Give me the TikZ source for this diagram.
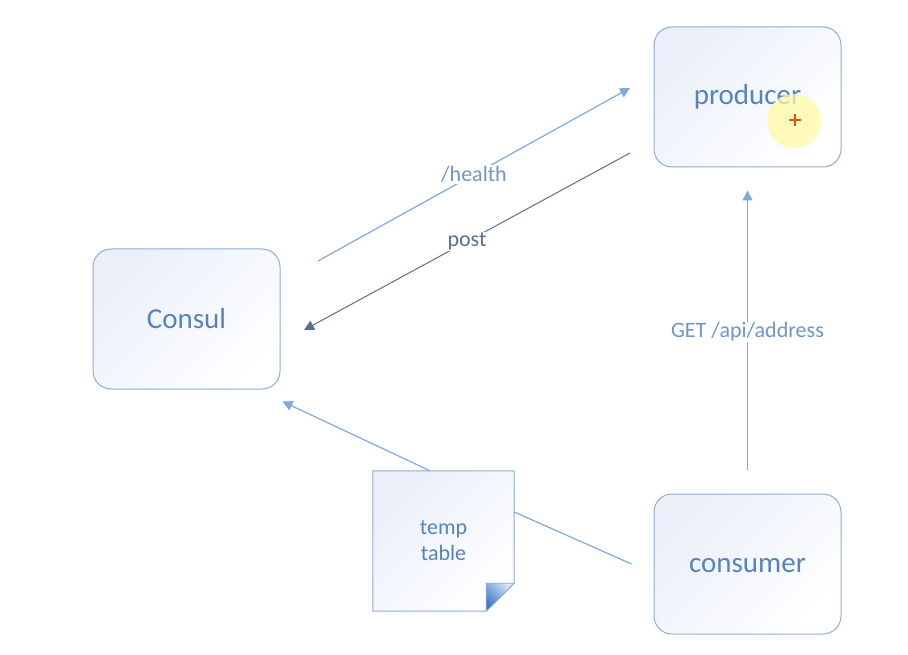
\documentclass[tikz,border=0pt]{standalone}
\usepackage{fontspec}
\setmainfont{Carlito}
\usepackage{tikz}
\usetikzlibrary{arrows.meta,positioning,shapes,backgrounds}
\definecolor{boxline}{RGB}{140,174,216}
\definecolor{boxtext}{RGB}{84,132,192}
\definecolor{boxfill}{RGB}{234,239,249}
\definecolor{linkblue}{RGB}{128,170,222}
\definecolor{linkdark}{RGB}{92,110,142}
\definecolor{folddark}{RGB}{62,118,196}
\definecolor{foldlight}{RGB}{214,228,246}
\definecolor{cursorred}{RGB}{232,80,10}
\tikzstyle{service} = [rectangle, draw=boxline, line width=1pt, rounded corners=18pt, minimum width=187pt, minimum height=140pt, left color=boxfill, right color=white, shading angle=45, text=boxtext, font=\fontsize{29}{32}\selectfont]
\tikzstyle{notebox} = [rectangle, minimum width=141pt, minimum height=140pt, align=center, text=boxtext, font=\fontsize{22}{26}\selectfont]
\tikzstyle{link} = [draw=linkblue, line width=1.2pt, -{Triangle[length=10pt,width=10pt]}]
\tikzstyle{lbl} = [fill=white, inner sep=1pt, text=boxtext!85, font=\fontsize{22}{24}\selectfont]

\begin{document}
\begin{tikzpicture}[x=1pt, y=-1pt]
		\useasboundingbox (0,0) rectangle (908,655);
		% Place nodes
		\node [service] (consul) at (186.5,319) {Consul};
		\node [service] (producer) at (747.5,97) {\raisebox{-8pt}[0pt][0pt]{producer}};
		\node [service, below of=producer, node distance=467pt] (consumer) {\raisebox{-8pt}[0pt][0pt]{consumer}};
		\node [notebox] (note) at (443.5,541) {temp\\table};
		\begin{pgfonlayer}{background}
			\draw [draw=boxline, line width=1pt, left color=boxfill, right color=white, shading angle=45]
				(note.north west) -- (note.north east) -- ([yshift=28pt]note.south east)
				-- ([xshift=-28pt]note.south east) -- (note.south west) -- cycle;
			\draw [draw=boxline, line width=0.8pt, left color=folddark, right color=foldlight, shading angle=135]
				([xshift=-28pt,yshift=28pt]note.south east) -- ([yshift=28pt]note.south east)
				-- ([xshift=-28pt]note.south east) -- cycle;
		\end{pgfonlayer}
		% Free ends
		\coordinate (hfrom) at (318,261);
		\coordinate (hto) at (630,88);
		\coordinate (pfrom) at (630,153);
		\coordinate (pto) at (304,330);
		% Draw edges
		\path [link] (hfrom) -- node [lbl] {/health} (hto);
		\path [link, draw=linkdark, line width=1pt] (pfrom) -- node [lbl, text=linkdark] {post} (pto);
		\path [link, line width=1.6pt] ([yshift=24pt]consumer.north) -- node [lbl, yshift=-2pt] {GET /api/address} ([yshift=-23pt]producer.south);
		\path [draw=linkblue, line width=1.2pt] ([xshift=-22pt]consumer.west) -- ([yshift=29pt]note.east);
		\path [link] ([xshift=-13.5pt]note.north) -- ([xshift=2pt,yshift=-12pt]consul.south east);
		% Cursor mark
		\fill [yellow!35, opacity=0.75] (794,121) circle (27pt);
		\draw [color=cursorred, line width=1.8pt] (789,120) -- (801,120) (795,114) -- (795,126);
	\end{tikzpicture}
\end{document}
